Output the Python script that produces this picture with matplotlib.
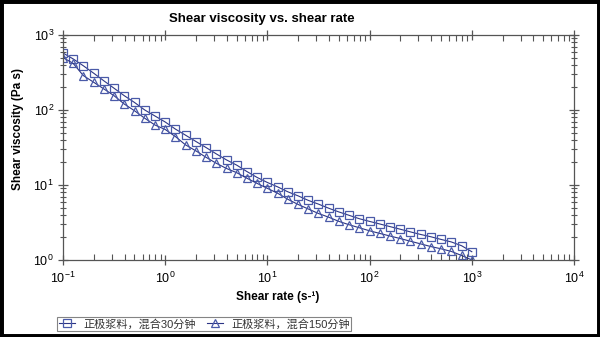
import matplotlib
matplotlib.use("Agg")
import matplotlib.pyplot as plt
from matplotlib.patches import Rectangle
from matplotlib.ticker import LogLocator, LogFormatterSciNotation, NullFormatter

plt.rcParams['font.family'] = ['Liberation Sans', 'Noto Sans CJK SC', 'DejaVu Sans']
plt.rcParams['mathtext.fontset'] = 'custom'
plt.rcParams['mathtext.rm'] = 'Liberation Sans'
plt.rcParams['mathtext.it'] = 'Liberation Sans:italic'
plt.rcParams['mathtext.bf'] = 'Liberation Sans:bold'
plt.rcParams['axes.unicode_minus'] = False

title = "Shear viscosity vs. shear rate"
xlabel = "Shear rate (s-¹)"
ylabel = "Shear viscosity (Pa s)"
series_names = ["正极浆料，混合30分钟", "正极浆料，混合150分钟"]

shear_rate = [0.1, 0.126, 0.158, 0.2, 0.251, 0.316, 0.398, 0.501, 0.631, 0.794,
              1.0, 1.26, 1.58, 2.0, 2.51, 3.16, 3.98, 5.01, 6.31, 7.94,
              10.0, 12.6, 15.8, 20.0, 25.1, 31.6, 39.8, 50.1, 63.1, 79.4,
              100.0, 126, 158, 200, 251, 316, 398, 501, 631, 794, 1000.0]

visc_30min = [575, 479, 389, 309, 245, 195, 155, 126, 100, 83.2,
              69.2, 55.6, 46.2, 38.0, 31.6, 26.0, 21.6, 18.4, 15.1, 12.6,
              10.8, 9.44, 8.13, 7.16, 6.24, 5.56, 4.90, 4.37, 3.94, 3.55,
              3.27, 3.02, 2.79, 2.57, 2.37, 2.19, 2.04, 1.88, 1.74, 1.55, 1.29]

visc_150min = [501, 417, 288, 234, 191, 155, 120, 97.7, 77.6, 63.1,
               55.0, 44.2, 34.3, 28.5, 23.4, 19.5, 16.6, 14.6, 12.3, 10.5,
               9.02, 7.76, 6.46, 5.50, 4.79, 4.17, 3.72, 3.27, 2.95, 2.69,
               2.45, 2.26, 2.09, 1.93, 1.78, 1.64, 1.51, 1.41, 1.30, 1.15, 1.00]

W, H = 600, 337
fig = plt.figure(figsize=(6.0, 3.37), dpi=100)
fig.patch.set_facecolor('white')

ax = fig.add_axes([63 / W, 1 - 260 / H, (574 - 63) / W, (260 - 35) / H])

line_col = '#2c3585'
mk_col = '#4a5aa8'
h1, = ax.plot(shear_rate, visc_30min, color=line_col, lw=0.8, marker='s',
              markersize=6, markerfacecolor='none', markeredgecolor=mk_col,
              markeredgewidth=0.9, label=series_names[0])
h2, = ax.plot(shear_rate, visc_150min, color=line_col, lw=0.8, marker='^',
              markersize=6, markerfacecolor='none', markeredgecolor=mk_col,
              markeredgewidth=0.9, label=series_names[1])

ax.set_xscale('log')
ax.set_yscale('log')
ax.set_xlim(0.1, 1e4)
ax.set_ylim(1, 1e3)

for ax_ in [ax.xaxis, ax.yaxis]:
    ax_.set_major_locator(LogLocator(base=10, numticks=10))
    ax_.set_minor_locator(LogLocator(base=10, subs=range(2, 10), numticks=10))
    ax_.set_major_formatter(LogFormatterSciNotation())
    ax_.set_minor_formatter(NullFormatter())

spine_col = '#555555'
for s in ax.spines.values():
    s.set_color(spine_col)
    s.set_linewidth(0.9)

ax.tick_params(which='both', top=True, right=True, color=spine_col, labelsize=9)
ax.tick_params(axis='y', which='major', direction='inout', length=7, width=0.9, pad=3)
ax.tick_params(axis='y', which='minor', direction='inout', length=4, width=0.8)
ax.tick_params(axis='x', which='major', direction='inout', length=7, width=0.9, pad=4)
ax.tick_params(axis='x', which='minor', direction='in', length=4, width=0.8)

fig.text(262 / W, 1 - 19 / H, title, ha='center', va='center',
         fontsize=9.5, fontweight='bold')
fig.text(278 / W, 1 - 297 / H, xlabel, ha='center', va='center',
         fontsize=8.5, fontweight='bold')
fig.text(18 / W, 1 - 129 / H, ylabel, ha='center', va='center',
         rotation=90, fontsize=8.5, fontweight='bold')

leg = fig.legend(handles=[h1, h2], loc='lower left',
                 bbox_to_anchor=(57 / W, 1 - 331 / H), ncol=2, fontsize=8,
                 frameon=True, fancybox=False, edgecolor='#666666',
                 borderpad=0.15, handlelength=1.5, handletextpad=0.7,
                 columnspacing=1.0, borderaxespad=0)
leg.get_frame().set_linewidth(0.8)
for t in leg.get_texts():
    t.set_color('#333333')

fig.patches.append(Rectangle((0, 0), 1, 1, transform=fig.transFigure,
                             fill=False, edgecolor='black', linewidth=5,
                             zorder=10))

fig.savefig('out.png', dpi=100, facecolor='white')
